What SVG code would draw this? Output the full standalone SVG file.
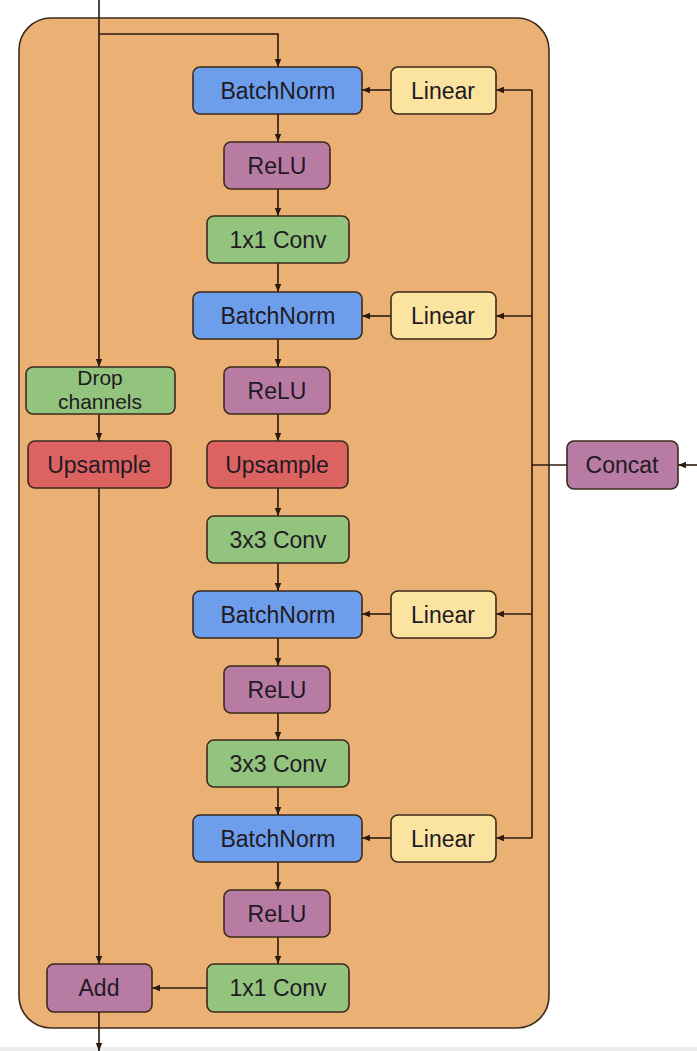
<svg xmlns="http://www.w3.org/2000/svg" width="697" height="1051" viewBox="0 0 697 1051">
<style>
.n{stroke:#3b2a1c;stroke-width:1.6}
.bn{fill:#6d9eeb}.re{fill:#b87ba3}.cv{fill:#93c47d}.up{fill:#dd6262}.li{fill:#fbe3a0}
text{font-family:"Liberation Sans",Arial,sans-serif;font-size:23px;fill:#1f1a24;text-anchor:middle}
.sm{font-size:21px}
.c line,.c path{stroke:#2a1a10;stroke-width:1.6;fill:none}
</style>
<defs>
<marker id="a" viewBox="0 0 10 10" refX="10" refY="5" markerWidth="9" markerHeight="8" markerUnits="userSpaceOnUse" orient="auto"><path d="M0,1 L10,5 L0,9 z" fill="#2a1a10"/></marker>
</defs>
<rect x="0" y="0" width="697" height="1051" fill="#ffffff"/>
<rect x="0" y="1047" width="697" height="4" fill="#ececec"/>
<rect id="container" x="19" y="18" width="530" height="1010" rx="32" fill="#ebb073" stroke="#3b2a1c" stroke-width="1.6"/>
<g class="c" id="connectors">
<line x1="99" y1="0" x2="99" y2="367" marker-end="url(#a)"/>
<path d="M99,34 H278 V67" marker-end="url(#a)"/>
<line x1="99" y1="414" x2="99" y2="441" marker-end="url(#a)"/>
<line x1="99" y1="488" x2="99" y2="964" marker-end="url(#a)"/>
<line x1="99" y1="1012" x2="99" y2="1051" marker-end="url(#a)"/>
<line x1="278" y1="114" x2="278" y2="142" marker-end="url(#a)"/>
<line x1="278" y1="189" x2="278" y2="216" marker-end="url(#a)"/>
<line x1="278" y1="263" x2="278" y2="292" marker-end="url(#a)"/>
<line x1="278" y1="339" x2="278" y2="367" marker-end="url(#a)"/>
<line x1="278" y1="414" x2="278" y2="441" marker-end="url(#a)"/>
<line x1="278" y1="488" x2="278" y2="516" marker-end="url(#a)"/>
<line x1="278" y1="563" x2="278" y2="591" marker-end="url(#a)"/>
<line x1="278" y1="638" x2="278" y2="666" marker-end="url(#a)"/>
<line x1="278" y1="713" x2="278" y2="740" marker-end="url(#a)"/>
<line x1="278" y1="787" x2="278" y2="815" marker-end="url(#a)"/>
<line x1="278" y1="862" x2="278" y2="890" marker-end="url(#a)"/>
<line x1="278" y1="937" x2="278" y2="964" marker-end="url(#a)"/>
<line x1="207" y1="988" x2="152" y2="988" marker-end="url(#a)"/>
<line x1="391" y1="90" x2="362" y2="90" marker-end="url(#a)"/>
<line x1="391" y1="316" x2="362" y2="316" marker-end="url(#a)"/>
<line x1="391" y1="614" x2="362" y2="614" marker-end="url(#a)"/>
<line x1="391" y1="838" x2="362" y2="838" marker-end="url(#a)"/>
<line x1="532" y1="90" x2="532" y2="838"/>
<line x1="532" y1="90" x2="496" y2="90" marker-end="url(#a)"/>
<line x1="532" y1="316" x2="496" y2="316" marker-end="url(#a)"/>
<line x1="532" y1="614" x2="496" y2="614" marker-end="url(#a)"/>
<line x1="532" y1="838" x2="496" y2="838" marker-end="url(#a)"/>
<line x1="567" y1="465" x2="532" y2="465"/>
<line x1="697" y1="465" x2="678" y2="465" marker-end="url(#a)"/>
</g>
<g id="bn1"><rect class="n bn" x="193" y="67" width="169" height="47" rx="7"/><text x="278" y="99">BatchNorm</text></g>
<g id="lin1"><rect class="n li" x="391" y="67" width="105" height="47" rx="7"/><text x="443" y="99">Linear</text></g>
<g id="relu1"><rect class="n re" x="224" y="142" width="106" height="47" rx="7"/><text x="277" y="174">ReLU</text></g>
<g id="conv1"><rect class="n cv" x="207" y="216" width="142" height="47" rx="7"/><text x="278" y="248">1x1 Conv</text></g>
<g id="bn2"><rect class="n bn" x="193" y="292" width="169" height="47" rx="7"/><text x="278" y="324">BatchNorm</text></g>
<g id="lin2"><rect class="n li" x="391" y="292" width="105" height="47" rx="7"/><text x="443" y="324">Linear</text></g>
<g id="drop"><rect class="n cv" x="26" y="367" width="149" height="47" rx="7"/><text class="sm" x="100" y="385">Drop</text><text class="sm" x="100" y="409">channels</text></g>
<g id="relu2"><rect class="n re" x="224" y="367" width="106" height="47" rx="7"/><text x="277" y="399">ReLU</text></g>
<g id="upL"><rect class="n up" x="28" y="441" width="143" height="47" rx="7"/><text x="99" y="473">Upsample</text></g>
<g id="upR"><rect class="n up" x="207" y="441" width="141" height="47" rx="7"/><text x="277" y="473">Upsample</text></g>
<g id="concat"><rect class="n re" x="567" y="441" width="111" height="48" rx="7"/><text x="622" y="473">Concat</text></g>
<g id="conv2"><rect class="n cv" x="207" y="516" width="142" height="47" rx="7"/><text x="278" y="548">3x3 Conv</text></g>
<g id="bn3"><rect class="n bn" x="193" y="591" width="169" height="47" rx="7"/><text x="278" y="623">BatchNorm</text></g>
<g id="lin3"><rect class="n li" x="391" y="591" width="105" height="47" rx="7"/><text x="443" y="623">Linear</text></g>
<g id="relu3"><rect class="n re" x="224" y="666" width="106" height="47" rx="7"/><text x="277" y="698">ReLU</text></g>
<g id="conv3"><rect class="n cv" x="207" y="740" width="142" height="47" rx="7"/><text x="278" y="772">3x3 Conv</text></g>
<g id="bn4"><rect class="n bn" x="193" y="815" width="169" height="47" rx="7"/><text x="278" y="847">BatchNorm</text></g>
<g id="lin4"><rect class="n li" x="391" y="815" width="105" height="47" rx="7"/><text x="443" y="847">Linear</text></g>
<g id="relu4"><rect class="n re" x="224" y="890" width="106" height="47" rx="7"/><text x="277" y="922">ReLU</text></g>
<g id="conv4"><rect class="n cv" x="207" y="964" width="142" height="48" rx="7"/><text x="278" y="996">1x1 Conv</text></g>
<g id="add"><rect class="n re" x="47" y="964" width="105" height="48" rx="7"/><text x="99" y="996">Add</text></g>
</svg>
